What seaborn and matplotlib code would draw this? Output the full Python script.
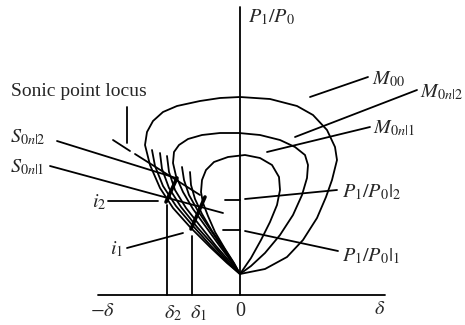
import matplotlib
matplotlib.use("Agg")
import matplotlib.pyplot as plt
import pandas as pd
import seaborn as sns

# Shock polars in the (deflection angle, pressure ratio) plane.
# delta in degrees, ratio = P1/P0; every polar passes through (0, 1).
M00_delta = [0, -3.25, -7.5, -12.5, -16.75, -20, -22.5, -23.75, -23.25, -21.75,
             -19.25, -15.75, -10, -5, 0, 7.5, 14.25, 18.25, 21.75, 23.75,
             24.25, 23, 21.5, 19.25, 15.75, 11.75, 6.25, 0]
M00_ratio = [1.0, 1.275, 1.675, 2.175, 2.65, 3.15, 3.725, 4.225, 4.55, 4.825,
             5.05, 5.2, 5.325, 5.4, 5.425, 5.375, 5.2, 4.975, 4.6, 4.175,
             3.85, 3.35, 2.925, 2.4, 1.85, 1.425, 1.125, 1.0]

M0n2_delta = [0, -2.25, -5.25, -8.5, -11.75, -14.25, -16, -16.75, -16.5, -15.25,
              -13, -9.5, -5, -0.25, 5, 10, 13.75, 16.25, 17, 16.75,
              15.5, 13.25, 10, 6.25, 2.75, 0]
M0n2_ratio = [1.0, 1.325, 1.725, 2.175, 2.625, 3.05, 3.45, 3.775, 4.05, 4.225,
              4.375, 4.475, 4.525, 4.525, 4.475, 4.35, 4.175, 3.975, 3.725, 3.4,
              2.975, 2.475, 1.975, 1.525, 1.2, 1.0]

M0n1_delta = [0, -1.5, -3.75, -6.25, -8, -9.25, -9.75, -9.5, -8.5, -6.5,
              -3, 1.25, 5, 8, 9.75, 10, 9.25, 7.5, 5.25, 2.75, 0]
M0n1_ratio = [1.0, 1.275, 1.625, 2.05, 2.45, 2.775, 3.05, 3.35, 3.6, 3.8,
              3.925, 3.975, 3.9, 3.725, 3.425, 3.1, 2.725, 2.3, 1.85, 1.4, 1.0]

# Left branches of the intermediate polars (the hatched fan)
fanA_delta = [-22, -21.25, -19.25, -16, -11.75, -7.25, -3, 0]
fanA_ratio = [4.1, 3.7, 3.2, 2.7, 2.2, 1.7, 1.275, 1.0]
fanB_delta = [-20, -19.5, -17.75, -14.75, -10.75, -6.5, -2.75, 0]
fanB_ratio = [4.025, 3.625, 3.15, 2.675, 2.175, 1.7, 1.275, 1.0]
fanC_delta = [-18.25, -17.75, -16.25, -13.5, -9.75, -6, -2.5, 0]
fanC_ratio = [3.95, 3.55, 3.1, 2.65, 2.175, 1.7, 1.3, 1.0]
fanD_delta = [-14.5, -14, -12.75, -10.5, -7.5, -4.5, -2, 0]
fanD_ratio = [3.675, 3.35, 2.975, 2.575, 2.125, 1.675, 1.3, 1.0]
fanE_delta = [-12.5, -12.25, -11.25, -9.5, -7, -4, -1.75, 0]
fanE_ratio = [3.55, 3.225, 2.875, 2.5, 2.075, 1.65, 1.3, 1.0]

# Loci of the intersection points i2 and i1 (heavy strokes)
i2_delta = [-15.75, -18.5]
i2_ratio = [3.4, 2.8]
i1_delta = [-8.75, -12.25]
i1_ratio = [2.925, 2.125]

# Sonic point locus, broken where its pointer meets it
sonicA_delta = [-31.75, -27.5]
sonicA_ratio = [4.35, 4.075]
sonicB_delta = [-26.25, -10]
sonicB_ratio = [4.0, 2.975]

# Deflection angles of the two intersection points
delta2 = -18.25
delta1 = -12.0
i2_level = 2.725
i1_level = 1.95
# Pressure ratios behind the intersection points
ratio2 = 2.85
ratio1 = 2.1

base = 0.475  # level of the delta axis

curves = {
    "M00": (M00_delta, M00_ratio),
    "M0n2": (M0n2_delta, M0n2_ratio),
    "M0n1": (M0n1_delta, M0n1_ratio),
    "fanA": (fanA_delta, fanA_ratio),
    "fanB": (fanB_delta, fanB_ratio),
    "fanC": (fanC_delta, fanC_ratio),
    "fanD": (fanD_delta, fanD_ratio),
    "fanE": (fanE_delta, fanE_ratio),
    "sonicA": (sonicA_delta, sonicA_ratio),
    "sonicB": (sonicB_delta, sonicB_ratio),
    "axis_v": ([0, 0], [7.675, base]),
    "axis_h": ([-35.5, 36.25], [base, base]),
    "d2": ([delta2, delta2], [i2_level, base]),
    "d1": ([delta1, delta1], [i1_level, base]),
    "tick2": ([-3.75, 0], [ratio2, ratio2]),
    "tick1": ([-4.25, 0], [ratio1, ratio1]),
    # pointer lines from the labels
    "ptr_sonic": ([-28.25, -28.25], [5.175, 4.275]),
    "ptr_S2": ([-45.75, -16], [4.325, 3.4]),
    "ptr_S1": ([-47.5, -4.25], [3.7, 2.525]),
    "ptr_i2": ([-33, -20.5], [2.825, 2.825]),
    "ptr_i1": ([-28.25, -14.25], [1.65, 2.025]),
    "ptr_P2": ([1.25, 24.25], [2.875, 3.1]),
    "ptr_P1": ([1.25, 24.5], [2.075, 1.575]),
    "ptr_M00": ([17.5, 32], [5.425, 5.925]),
    "ptr_M0n2": ([13.75, 44.25], [4.425, 5.6]),
    "ptr_M0n1": ([6.75, 32.5], [4.05, 4.675]),
}
heavy = {
    "i2": (i2_delta, i2_ratio),
    "i1": (i1_delta, i1_ratio),
}


def to_frame(d):
    rows = []
    for name, (xs, ys) in d.items():
        for k, (x, y) in enumerate(zip(xs, ys)):
            rows.append({"delta": x, "ratio": y, "curve": name, "k": k})
    return pd.DataFrame(rows)


sns.set_style("white")
plt.rcParams["mathtext.fontset"] = "stix"
plt.rcParams["font.family"] = ["Liberation Serif", "DejaVu Serif"]

fig = plt.figure(figsize=(4.65, 3.25), dpi=100)
ax = fig.add_axes([0, 0, 1, 1])

sns.lineplot(data=to_frame(curves), x="delta", y="ratio", units="curve",
             estimator=None, sort=False, color="black", lw=1.3, ax=ax,
             legend=False)
sns.lineplot(data=to_frame(heavy), x="delta", y="ratio", units="curve",
             estimator=None, sort=False, color="black", lw=2.6, ax=ax,
             legend=False, solid_capstyle="round")

ax.set_xlim(-60, 56.25)
ax.set_ylim(-0.275, 7.85)
ax.set_axis_off()

fs = 14.5
ax.text(-40.25, 5.55, "Sonic point locus", fontsize=14, ha="center", va="center")
ax.text(-57.5, 4.425, r"$S_{0n|2}$", fontsize=fs, ha="left", va="center")
ax.text(-57.5, 3.675, r"$S_{0n|1}$", fontsize=fs, ha="left", va="center")
ax.text(-33.5, 2.8, r"$i_2$", fontsize=fs, ha="right", va="center")
ax.text(-30.75, 1.625, r"$i_1$", fontsize=fs, ha="center", va="center")
ax.text(2, 7.425, r"$P_1/P_0$", fontsize=fs, ha="left", va="center")
ax.text(33, 5.875, r"$M_{00}$", fontsize=fs, ha="left", va="center")
ax.text(45, 5.55, r"$M_{0n|2}$", fontsize=fs, ha="left", va="center")
ax.text(33.25, 4.65, r"$M_{0n|1}$", fontsize=fs, ha="left", va="center")
ax.text(25.5, 3.05, r"$P_1/P_0|_2$", fontsize=fs, ha="left", va="center")
ax.text(25.5, 1.45, r"$P_1/P_0|_1$", fontsize=fs, ha="left", va="center")
ax.text(-34.25, 0.075, r"$-\delta$", fontsize=fs, ha="center", va="center")
ax.text(delta2 + 1.5, 0.025, r"$\delta_2$", fontsize=fs, ha="center", va="center")
ax.text(delta1 + 1.5, 0.025, r"$\delta_1$", fontsize=fs, ha="center", va="center")
ax.text(0, 0.075, "0", fontsize=fs, ha="center", va="center")
ax.text(35, 0.1, r"$\delta$", fontsize=fs, ha="center", va="center")

fig.savefig("out.png", dpi=100, facecolor="white")
